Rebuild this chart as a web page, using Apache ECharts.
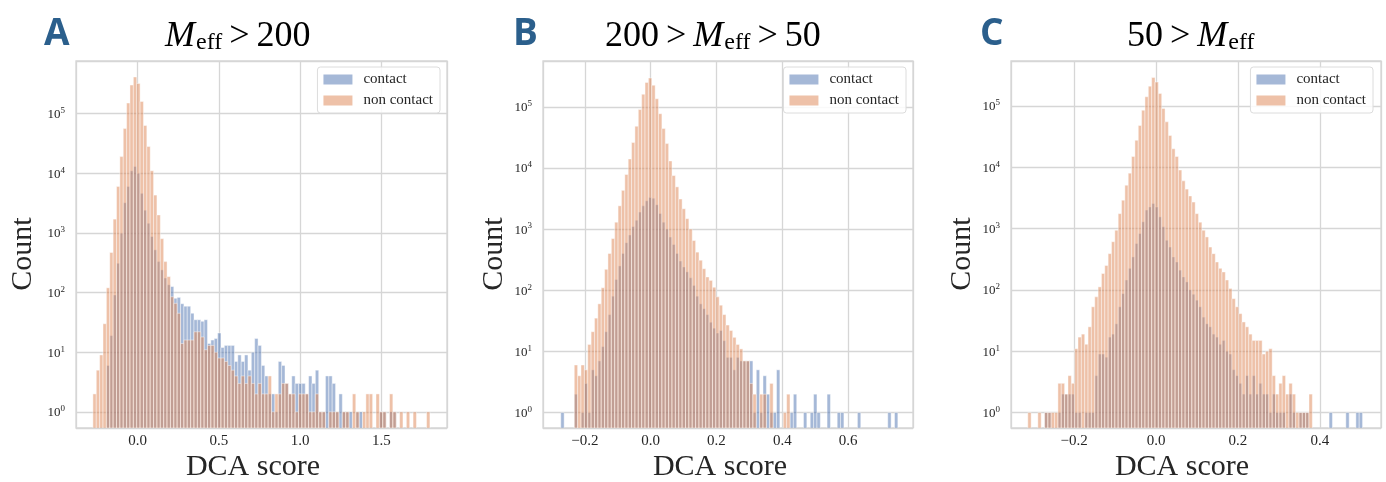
<!DOCTYPE html>
<html>
<head>
<meta charset="utf-8">
<script src="https://cdn.jsdelivr.net/npm/echarts@6/dist/echarts.min.js"></script>
<style>
  html, body { margin: 0; padding: 0; background: #fff; }
  #chart { width: 1386px; height: 482px; }
</style>
</head>
<body>
<div id="chart"></div>
<script>
// DCA score histograms (100 equal-width bins over each panel's range),
// split by effective number of sequences M_eff.

// Panel A: M_eff > 200
const edgesA = [-0.275, 1.798];
const contactA = [
  0, 0, 0, 0, 6, 19, 91, 310, 990, 3200,
  6000, 11000, 13000, 10000, 4600, 2400, 1450, 870, 520, 330,
  240, 175, 135, 126, 80, 83, 65, 59, 59, 45,
  35, 35, 33, 35, 14, 16, 17, 21, 12, 13,
  13, 13, 7, 9, 7, 9, 5, 10, 17, 13,
  6, 4, 2, 2, 1, 7, 6, 3, 2, 4,
  3, 3, 3, 2, 4, 3, 5, 1, 1, 4,
  4, 3, 1, 2, 1, 1, 1, 0, 1, 1,
  0, 0, 0, 0, 0, 1, 1, 0, 1, 1,
  0, 0, 0, 0, 0, 0, 0, 0, 0, 0
];
const nonContactA = [
  2, 5, 9, 30, 120, 470, 1700, 6000, 19000, 56000,
  150000, 300000, 410000, 320000, 160000, 63000, 28000, 11000, 4300, 2000,
  800, 330, 185, 85, 66, 45, 14, 16, 16, 16,
  22, 22, 18, 11, 13, 13, 10, 8, 8, 7,
  6, 5, 4, 3, 4, 3, 4, 3, 2, 3,
  2, 2, 4, 1, 2, 2, 3, 3, 2, 2,
  1, 2, 2, 2, 1, 1, 2, 1, 1, 0,
  1, 1, 1, 0, 1, 1, 0, 2, 1, 0,
  1, 2, 2, 0, 2, 1, 1, 0, 2, 1,
  0, 1, 0, 1, 0, 1, 0, 0, 0, 1
];

// Panel B: 200 > M_eff > 50
const edgesB = [-0.273, 0.751];
const contactB = [
  1, 0, 0, 0, 2, 0, 1, 3, 1, 5,
  4, 7, 12, 21, 40, 80, 150, 250, 400, 600,
  800, 1100, 1400, 1900, 2400, 2900, 3300, 3200, 2500, 1800,
  1300, 1000, 740, 560, 400, 300, 240, 200, 160, 120,
  80, 60, 50, 40, 30, 24, 20, 22, 15, 8,
  8, 5, 8, 7, 7, 7, 7, 1, 5, 1,
  4, 2, 1, 1, 5, 0, 0, 0, 1, 2,
  0, 0, 1, 0, 1, 2, 1, 0, 0, 2,
  0, 0, 1, 1, 0, 0, 0, 0, 1, 0,
  0, 0, 0, 0, 0, 0, 0, 1, 0, 1
];
const nonContactB = [
  0, 0, 0, 0, 6, 4, 6, 5, 13, 21,
  35, 60, 110, 220, 400, 700, 1300, 2400, 4300, 7800,
  14000, 26000, 48000, 90000, 160000, 250000, 295000, 225000, 135000, 77000,
  44000, 25000, 13000, 7500, 4900, 3100, 2150, 1480, 1000, 650,
  420, 310, 225, 165, 145, 112, 78, 57, 40, 27,
  22, 17, 13, 11, 7, 7, 3, 2, 0, 2,
  2, 0, 3, 0, 0, 0, 1, 2, 0, 0,
  0, 0, 0, 0, 0, 0, 0, 0, 0, 0,
  0, 0, 0, 0, 0, 0, 0, 0, 0, 0,
  0, 0, 0, 0, 0, 0, 0, 0, 0, 0
];

// Panel C: 50 > M_eff
const edgesC = [-0.313, 0.504];
const contactC = [
  0, 0, 0, 0, 0, 1, 1, 0, 0, 1,
  2, 2, 2, 2, 1, 1, 0, 1, 1, 1,
  4, 9, 9, 8, 17, 19, 28, 53, 87, 145,
  225, 345, 570, 830, 1290, 2000, 2250, 2560, 2250, 1550,
  1070, 645, 500, 345, 285, 210, 163, 135, 100, 85,
  68, 53, 36, 28, 25, 19, 17, 13, 15, 10,
  9, 5, 4, 3, 2, 4, 2, 4, 2, 3,
  2, 2, 1, 2, 1, 1, 1, 0, 2, 1,
  0, 1, 1, 1, 0, 0, 0, 0, 0, 0,
  1, 0, 0, 0, 0, 1, 0, 0, 1, 1
];
const nonContactC = [
  1, 0, 0, 1, 0, 1, 1, 1, 1, 3,
  3, 2, 4, 3, 11, 17, 19, 13, 25, 53,
  77, 112, 185, 250, 390, 610, 940, 1750, 2900, 5100,
  8000, 15000, 27500, 48000, 85000, 141000, 210000, 290000, 245000, 160000,
  91000, 55000, 33000, 20000, 15000, 9000, 6000, 4400, 3400, 2700,
  1750, 1270, 940, 730, 500, 390, 285, 225, 196, 145,
  105, 72, 53, 41, 30, 25, 19, 15, 15, 15,
  9, 10, 11, 4, 2, 3, 4, 2, 3, 2,
  1, 1, 1, 1, 2, 0, 0, 0, 0, 0,
  0, 0, 0, 0, 0, 0, 0, 0, 0, 0
];

// Labels
const seriesNames = ['contact', 'non contact'];
const panelLetters = ['A', 'B', 'C'];
const xAxisTitle = 'DCA score';
const yAxisTitle = 'Count';

// ---- layout & style ----
const SERIF = '"Liberation Serif", "DejaVu Serif", serif';
const INK = '#262626';
const GRID_LINE = '#d6d6d6';
const BLUE = 'rgba(76,114,176,0.5)';
const ORANGE = 'rgba(221,132,82,0.5)';

const panels = [
  { left: 76,  top: 61, width: 371, height: 367, xr: [-0.379, 1.903], step: 0.5, yr: [0.537, 7.6e5],
    edges: edgesA, contact: contactA, non: nonContactA, legendRight: 946,
    titleX: 165, letterX: 44, xNameX: 253, yNameX: 23 },
  { left: 543, top: 61, width: 370, height: 367, xr: [-0.327, 0.797], step: 0.2, yr: [0.56, 5.6e5],
    edges: edgesB, contact: contactB, non: nonContactB, legendRight: 480,
    titleX: 605, letterX: 513, xNameX: 720, yNameX: 494 },
  { left: 1011, top: 61, width: 370, height: 367, xr: [-0.354, 0.549], step: 0.2, yr: [0.56, 5.4e5],
    edges: edgesC, contact: contactC, non: nonContactC, legendRight: 13,
    titleX: 1127, letterX: 980, xNameX: 1182, yNameX: 962 }
];

function binData(edges, counts) {
  const w = (edges[1] - edges[0]) / counts.length;
  const out = [];
  counts.forEach((c, i) => {
    if (c > 0) out.push([edges[0] + i * w, edges[0] + (i + 1) * w, c]);
  });
  return out;
}

function histSeries(name, idx, edges, counts, color) {
  return {
    type: 'custom',
    name: name,
    xAxisIndex: idx,
    yAxisIndex: idx,
    data: binData(edges, counts),
    encode: { x: [0, 1], y: 2 },
    itemStyle: { color: color },
    clip: true,
    renderItem: function (params, api) {
      const a = api.coord([api.value(0), api.value(2)]);
      const b = api.coord([api.value(1), api.value(2)]);
      const bottom = params.coordSys.y + params.coordSys.height;
      return {
        type: 'rect',
        shape: { x: a[0], y: a[1], width: b[0] - a[0], height: bottom - a[1] },
        style: { fill: color, stroke: 'rgba(255,255,255,0.55)', lineWidth: 0.8 }
      };
    }
  };
}

function fmtX(v) {
  const s = Math.abs(v).toFixed(1);
  return v < -1e-9 ? '\u2212' + s : s;
}

const grids = [], xAxes = [], yAxes = [], series = [], legends = [], graphics = [];
panels.forEach((p, k) => {
  grids.push({ left: p.left, top: p.top, width: p.width, height: p.height,
    show: true, borderColor: GRID_LINE, borderWidth: 1.3, backgroundColor: '#fff' });
  xAxes.push({
    type: 'value', gridIndex: k, min: p.xr[0], max: p.xr[1],
    minInterval: p.step, maxInterval: p.step,
    axisLine: { show: false }, axisTick: { show: false },
    splitLine: { show: true, lineStyle: { color: GRID_LINE, width: 1.3 } },
    axisLabel: { formatter: fmtX, color: INK, fontFamily: SERIF, fontSize: 15, margin: 6,
      showMinLabel: false, showMaxLabel: false }
  });
  yAxes.push({
    type: 'log', logBase: 10, gridIndex: k, min: p.yr[0], max: p.yr[1],
    axisLine: { show: false }, axisTick: { show: false },
    splitLine: { show: true, lineStyle: { color: GRID_LINE, width: 1.3 } },
    minorTick: { show: false }, minorSplitLine: { show: false },
    axisLabel: {
      showMinLabel: false, showMaxLabel: false, margin: 11,
      formatter: function (v) { return '{b|10}{s|' + Math.round(Math.log10(v)) + '}'; },
      rich: {
        b: { fontFamily: SERIF, fontSize: 13, color: INK, verticalAlign: 'bottom' },
        s: { fontFamily: SERIF, fontSize: 9, color: INK, verticalAlign: 'top', padding: [0, 0, 6, 0] }
      }
    }
  });
  series.push(histSeries(seriesNames[0], k, p.edges, p.contact, BLUE));
  series.push(histSeries(seriesNames[1], k, p.edges, p.non, ORANGE));
  legends.push({
    data: seriesNames.map(n => ({ name: n, icon: 'rect' })),
    orient: 'vertical', right: p.legendRight, top: 67,
    itemWidth: 29, itemHeight: 10, itemGap: 6,
    padding: [5, 7, 5, 6],
    backgroundColor: 'rgba(255,255,255,0.85)', borderColor: '#dcdcdc', borderWidth: 1, borderRadius: 3,
    textStyle: { fontFamily: SERIF, fontSize: 15, color: INK, padding: [0, 0, 0, 6] },
    selectedMode: false
  });
  // axis titles
  graphics.push({ type: 'text', x: p.xNameX, y: 467,
    style: { text: xAxisTitle, fontFamily: SERIF, fontSize: 30, fill: INK, align: 'center', verticalAlign: 'middle' } });
  graphics.push({ type: 'text', x: p.yNameX, y: 254, rotation: Math.PI / 2,
    style: { text: yAxisTitle, fontFamily: SERIF, fontSize: 30, fill: INK, align: 'center', verticalAlign: 'middle' } });
});

// Panel titles (math-style) and panel letters
const titleRich = {
  m: { fontFamily: SERIF, fontStyle: 'italic', fontSize: 36, color: '#111' },
  e: { fontFamily: SERIF, fontSize: 24, color: '#111', padding: [10, 0, 0, 1], verticalAlign: 'bottom' },
  r: { fontFamily: SERIF, fontSize: 36, color: '#111', padding: [0, 7, 0, 7] },
  t: { fontFamily: SERIF, fontSize: 36, color: '#111' }
};
const titleTexts = [
  '{m|M}{e|eff}{r|>}{t|200}',
  '{t|200}{r|>}{m|M}{e|eff}{r|>}{t|50}',
  '{t|50}{r|>}{m|M}{e|eff}'
];
panels.forEach((p, i) => {
  graphics.push({ type: 'text', left: p.titleX, top: 19,
    style: { text: titleTexts[i], rich: titleRich } });
  graphics.push({ type: 'text', left: p.letterX, top: 16,
    style: { text: panelLetters[i], fontFamily: '"Open Sans", "Noto Sans", sans-serif', fontWeight: 'bold',
      fontSize: 37, fill: '#2b5f8c' } });
});

const chart = echarts.init(document.getElementById('chart'), null, { renderer: 'canvas' });
chart.setOption({
  animation: false,
  backgroundColor: '#fff',
  grid: grids,
  xAxis: xAxes,
  yAxis: yAxes,
  legend: legends,
  series: series,
  graphic: graphics
});
</script>
</body>
</html>
